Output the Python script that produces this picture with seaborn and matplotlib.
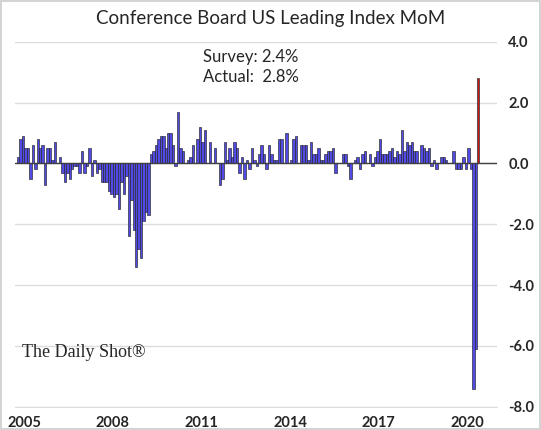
import numpy as np
import pandas as pd
import matplotlib.pyplot as plt
import seaborn as sns

# Conference Board LEI, month-over-month % change (Oct 2004 - May 2020)
lei_2004 = [0.2, 0.8, 0.9]
lei_2005 = [0.5, 0.5, -0.5, 0.6, -0.2, 0.8, 0.5, 0.6, -0.7, 0.5, 0.5, 0.1]
lei_2006 = [0.7, 0.0, 0.2, -0.3, -0.6, -0.3, -0.5, -0.2, -0.1, -0.1, -0.3, 0.4]
lei_2007 = [-0.3, -0.1, 0.5, -0.4, 0.1, -0.3, -0.2, -0.6, -0.6, -0.6, -0.9, -1.0]
lei_2008 = [-1.1, -1.0, -1.5, -0.6, -1.0, -0.4, -2.4, -1.2, -2.2, -3.4, -2.8, -3.1]
lei_2009 = [-1.9, -1.6, -1.7, 0.3, 0.4, 0.6, 0.8, 0.9, 0.9, 0.5, 1.0, 1.0]
lei_2010 = [0.6, -0.1, 1.7, 0.5, 0.4, 0.0, 0.1, 0.2, 0.6, 0.0, 0.8, 1.2]
lei_2011 = [0.7, 1.1, 0.0, 0.7, 0.0, 0.5, 0.0, -0.7, -0.5, 0.7, 0.1, 0.5]
lei_2012 = [0.2, 0.7, 0.5, -0.3, 0.2, -0.5, 0.1, -0.2, 0.5, 0.1, -0.1, 0.3]
lei_2013 = [0.6, 0.3, -0.2, 0.6, 0.3, 0.1, 0.1, 0.8, 0.8, 0.0, 1.0, 0.0]
lei_2014 = [0.1, 0.8, 0.9, 0.0, 0.6, 0.6, 0.6, 0.1, 0.7, 0.3, 0.3, 0.5]
lei_2015 = [0.1, 0.1, 0.3, 0.4, 0.4, 0.5, -0.3, 0.0, 0.0, 0.3, 0.3, -0.1]
lei_2016 = [-0.5, 0.0, 0.1, 0.2, -0.2, 0.3, 0.4, 0.0, 0.3, -0.1, 0.2, 0.4]
lei_2017 = [0.8, 0.3, 0.3, 0.3, 0.4, 0.5, 0.2, 0.4, 0.3, 1.1, 0.4, 0.7]
lei_2018 = [0.6, 0.7, 0.4, 0.4, 0.0, 0.6, 0.5, 0.4, 0.5, -0.1, 0.1, -0.2]
lei_2019 = [0.0, 0.2, 0.2, 0.1, 0.0, 0.0, 0.4, -0.2, -0.2, -0.2, 0.2, -0.2]
lei_2020 = [0.5, -0.2, -7.4, -6.1, 2.8]

tick_years = [2005, 2008, 2011, 2014, 2017, 2020]
y_ticks = [4.0, 2.0, 0.0, -2.0, -4.0, -6.0, -8.0]
survey = 2.4
actual = 2.8

values = (lei_2004 + lei_2005 + lei_2006 + lei_2007 + lei_2008 + lei_2009
          + lei_2010 + lei_2011 + lei_2012 + lei_2013 + lei_2014 + lei_2015
          + lei_2016 + lei_2017 + lei_2018 + lei_2019 + lei_2020)
months = pd.period_range('2004-10', periods=len(values), freq='M')
df = pd.DataFrame({'month': months.astype(str), 'mom': values})
df['kind'] = 'hist'
df.loc[df.index[-1], 'kind'] = 'latest'

sns.set_style('white')
plt.rcParams['font.family'] = ['Lato', 'DejaVu Sans']

fig = plt.figure(figsize=(5.41, 4.30), dpi=100)
fig.patch.set_edgecolor('#d4d4d4')
fig.patch.set_linewidth(1.5)
ax = fig.add_axes([0.028, 0.054, 0.891, 0.849])

sns.barplot(data=df, x='month', y='mom', hue='kind', dodge=False,
            palette={'hist': '#3b30ff', 'latest': '#e00000'},
            width=1.0, edgecolor='#262626', linewidth=0.45,
            legend=False, ax=ax, zorder=3)

ax.axhline(0, color='#404040', lw=1.0, zorder=4)

ax.set_ylim(-8, 4)
ax.set_xlim(-1.2, 194.7)
ax.set_yticks(y_ticks)
ax.set_yticklabels([f'{v:.1f}' for v in y_ticks], fontweight='bold', fontsize=10.5)
ax.yaxis.tick_right()
ax.tick_params(axis='y', length=0, pad=8)
ax.grid(axis='y', color='#dcdcdc', lw=1, zorder=0)
ax.grid(axis='x', visible=False)

month_list = list(df['month'])
tick_pos = [month_list.index(f'{y}-01') - 0.5 for y in tick_years]
ax.set_xticks(tick_pos)
ax.set_xticklabels([str(y) for y in tick_years], fontweight='bold', fontsize=10.5)
ax.tick_params(axis='x', direction='inout', length=5, width=0.8,
               color='#909090', pad=4)

for s in ['top', 'left', 'right']:
    ax.spines[s].set_visible(False)
ax.spines['bottom'].set_color('#dcdcdc')
ax.set_xlabel('')
ax.set_ylabel('')

fig.text(0.5, 0.958, 'Conference Board US Leading Index MoM',
         ha='center', va='center', fontsize=13.5)
fig.text(0.375, 0.867, f'Survey: {survey}%', ha='left', va='center', fontsize=12)
fig.text(0.375, 0.820, f'Actual:  {actual}%', ha='left', va='center', fontsize=12)
fig.text(0.04, 0.181, 'The Daily Shot\u00ae', ha='left', va='center',
         fontsize=13, family=['Liberation Serif', 'DejaVu Serif'])

fig.savefig('out.png', dpi=100)
